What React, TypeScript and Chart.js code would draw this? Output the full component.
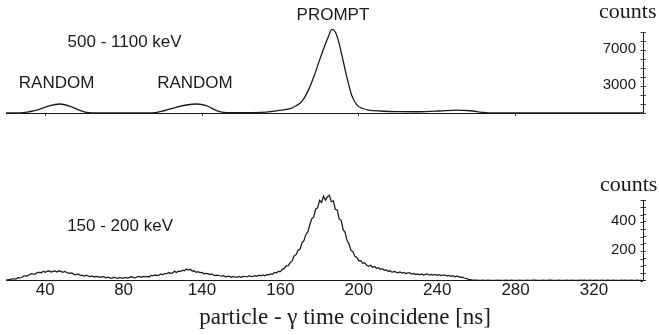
import { useEffect, useRef } from "react";
import { Chart, registerables } from "chart.js";

Chart.register(...registerables);

// ---- x axis (time, ns) ----
const xMinNs = 20;
const xMaxNs = 345;
const bottomTickValues = [40, 80, 120, 160, 200, 240, 280, 320];
const bottomTickLabels = ["40", "80", "140", "160", "200", "240", "280", "320"];
const topTickValues = [40, 120, 200, 280];
const xTitle = "particle - γ time coincidene [ns]";

// ---- y axes ----
const topYTickValues = [0, 1000, 2000, 3000, 4000, 5000, 6000, 7000, 8000, 9000];
const topYLabelled = [3000, 7000];
const bottomYTickValues = [0, 50, 100, 150, 200, 250, 300, 350, 400, 450, 500, 550];
const bottomYLabelled = [200, 400];

// ---- top panel: 500 - 1100 keV (smooth spectrum) ----
const topTimes = [
  20, 27, 32, 37, 42, 47.5, 53, 58, 62, 66, 80, 92, 97, 105, 112, 117.5, 122.5, 127.5, 131,
  140, 150, 156, 161, 165, 168, 171, 174, 177, 180, 182.5, 184.5, 186.3, 188, 189.5, 191.5,
  194, 196.5, 199, 202, 205, 211, 220, 231, 241, 250, 257, 263, 268, 345,
];
const topCounts = [
  0, 0, 140, 400, 800, 1000, 720, 260, 30, 0, 0, 0, 80, 520, 890, 1000, 780, 260, 70,
  30, 60, 170, 330, 480, 800, 1300, 2400, 4000, 5900, 7400, 8500, 9300, 9000, 8100, 6300,
  3900, 1900, 900, 500, 330, 220, 150, 140, 220, 330, 250, 80, 0, 0,
];

// ---- bottom panel: 150 - 200 keV (1 ns bins starting at 20 ns) ----
const bottomStartNs = 20;
const bottomCounts = [
  2, 7, 5, 12, 12, 10, 20, 18, 21, 30,
  33, 33, 42, 48, 45, 45, 56, 56, 53, 64,
  57, 63, 67, 59, 63, 66, 58, 67, 63, 57,
  62, 55, 49, 53, 49, 40, 43, 44, 35, 36,
  31, 37, 31, 28, 32, 24, 29, 27, 22, 27,
  25, 19, 24, 19, 16, 23, 18, 16, 21, 17,
  17, 22, 17, 22, 26, 20, 19, 26, 28, 22,
  29, 25, 29, 25, 35, 32, 38, 34, 37, 46,
  39, 48, 47, 55, 50, 53, 63, 55, 64, 61,
  71, 67, 79, 72, 77, 65, 67, 56, 61, 55,
  56, 47, 50, 47, 41, 45, 37, 34, 37, 33,
  30, 33, 26, 29, 29, 23, 28, 23, 24, 29,
  23, 29, 28, 25, 33, 27, 29, 34, 29, 37,
  32, 38, 33, 41, 39, 45, 43, 56, 53, 63,
  61, 79, 82, 101, 102, 124, 134, 168, 177, 207,
  214, 257, 272, 315, 332, 381, 422, 435, 489, 496,
  548, 533, 576, 549, 573, 582, 538, 544, 487, 482,
  421, 411, 347, 330, 273, 251, 206, 197, 165, 158,
  135, 136, 118, 122, 105, 98, 105, 91, 96, 84,
  88, 77, 81, 70, 73, 64, 67, 56, 62, 58,
  53, 59, 52, 56, 48, 53, 52, 44, 49, 41,
  45, 39, 45, 38, 42, 45, 37, 42, 37, 42,
  36, 41, 34, 38, 38, 31, 35, 29, 33, 26,
  30, 27, 22, 23, 16, 14, 8, 7, 4, 4,
  3, 2, 2, 4, 1, 2, 3, 2, 1, 1,
  2, 4, 2, 1, 1, 3, 2, 2, 4, 1,
  1, 2, 3, 1, 2, 2, 4, 1, 2, 3,
  3, 1, 1, 2, 4, 2, 1, 3, 3, 1,
  2, 1, 4, 2, 2, 1, 3, 1, 2, 4,
  1, 2, 2, 3, 1, 4, 2, 1, 3, 2,
  2, 4, 1, 1, 3, 2, 2, 4, 1, 2,
  3, 1, 2, 2, 4, 1, 3, 2, 1, 3,
  2, 1, 3, 1, 2, 0,
];

const SANS = "'Liberation Sans', Arial, sans-serif";
const SERIF = "'Liberation Serif', 'Times New Roman', serif";
const INK = "#1a1a1a";

type Note = { text: string; x: number; y: number; align: CanvasTextAlign; font: string };

const topNotes: Note[] = [
  { text: "PROMPT", x: 186.8, y: 10890, align: "center", font: `17px ${SANS}` },
  { text: "500 - 1100 keV", x: 80.5, y: 7890, align: "center", font: `17px ${SANS}` },
  { text: "RANDOM", x: 45.8, y: 3333, align: "center", font: `17px ${SANS}` },
  { text: "RANDOM", x: 116.4, y: 3333, align: "center", font: `17px ${SANS}` },
  { text: "counts", x: 322.6, y: 11222, align: "left", font: `22px ${SERIF}` },
];
const bottomNotes: Note[] = [
  { text: "150 - 200 keV", x: 78.2, y: 372, align: "center", font: `17px ${SANS}` },
  { text: "counts", x: 323, y: 649, align: "left", font: `22px ${SERIF}` },
];

// draws free text (in data coordinates), y tick labels left of the right axis,
// inward halves of the y tick marks, and optionally the x axis title
function textPlugin(
  notes: Note[],
  yTicks: number[],
  yLabelled: number[],
  title?: { text: string; x: number; py: number }
) {
  return {
    id: "texts",
    afterDraw(chart: any) {
      const { ctx, scales } = chart;
      const xs = scales.x;
      const ys = scales.y;
      ctx.save();
      ctx.strokeStyle = "#333";
      ctx.lineWidth = 1;
      ctx.beginPath();
      for (const v of yTicks) {
        const py = Math.round(ys.getPixelForValue(v)) + 0.5;
        ctx.moveTo(ys.left - 2.5, py);
        ctx.lineTo(ys.left, py);
      }
      ctx.stroke();
      ctx.fillStyle = INK;
      ctx.textBaseline = "middle";
      for (const n of notes) {
        ctx.font = n.font;
        ctx.textAlign = n.align;
        ctx.fillText(n.text, xs.getPixelForValue(n.x), ys.getPixelForValue(n.y));
      }
      ctx.font = `15px ${SANS}`;
      ctx.textAlign = "right";
      for (const v of yLabelled) {
        ctx.fillText(String(v), ys.left - 7, ys.getPixelForValue(v) - 1);
      }
      if (title) {
        ctx.font = `23px ${SERIF}`;
        ctx.textAlign = "center";
        ctx.fillText(title.text, xs.getPixelForValue(title.x), title.py);
      }
      ctx.restore();
    },
  };
}

export default function App() {
  const topRef = useRef<HTMLCanvasElement>(null);
  const botRef = useRef<HTMLCanvasElement>(null);

  useEffect(() => {
    const top = new Chart(topRef.current!, {
      type: "line",
      data: {
        datasets: [
          {
            data: topTimes.map((t, i) => ({ x: t, y: topCounts[i] })),
            borderColor: INK,
            borderWidth: 1.3,
            pointRadius: 0,
            cubicInterpolationMode: "monotone",
            fill: false,
            clip: false as any,
          },
        ],
      },
      options: {
        animation: false,
        responsive: false,
        maintainAspectRatio: false,
        layout: { padding: { left: 6, right: 13, top: 32, bottom: 9 } },
        plugins: { legend: { display: false }, tooltip: { enabled: false } },
        scales: {
          x: {
            type: "linear",
            min: xMinNs,
            max: xMaxNs,
            afterBuildTicks: (s: any) => {
              s.ticks = topTickValues.map((v) => ({ value: v }));
            },
            ticks: { display: false, autoSkip: false },
            grid: { drawOnChartArea: false, drawTicks: true, tickLength: 3, color: "#333" },
            border: { color: INK, width: 1 },
          },
          y: {
            position: "right",
            min: 0,
            max: 9000,
            afterBuildTicks: (s: any) => {
              s.ticks = topYTickValues.map((v) => ({ value: v }));
            },
            ticks: { display: false, autoSkip: false },
            grid: { drawOnChartArea: false, drawTicks: true, tickLength: 3, color: "#333" },
            border: { color: INK, width: 1 },
          },
        },
      },
      plugins: [textPlugin(topNotes, topYTickValues, topYLabelled)],
    });

    const bottom = new Chart(botRef.current!, {
      type: "line",
      data: {
        datasets: [
          {
            data: bottomCounts.map((c, i) => ({ x: bottomStartNs + i, y: c })),
            borderColor: INK,
            borderWidth: 1.25,
            pointRadius: 0,
            tension: 0,
            fill: false,
            clip: false as any,
          },
        ],
      },
      options: {
        animation: false,
        responsive: false,
        maintainAspectRatio: false,
        layout: { padding: { left: 6, right: 13, top: 75, bottom: 34 } },
        plugins: { legend: { display: false }, tooltip: { enabled: false } },
        scales: {
          x: {
            type: "linear",
            min: xMinNs,
            max: xMaxNs,
            afterBuildTicks: (s: any) => {
              s.ticks = bottomTickValues.map((v) => ({ value: v }));
            },
            ticks: {
              padding: 0,
              maxRotation: 0,
              autoSkip: false,
              color: INK,
              font: { family: SANS, size: 17 },
              callback: (v: any) => bottomTickLabels[bottomTickValues.indexOf(Number(v))],
            },
            grid: { drawOnChartArea: false, drawTicks: false },
            border: { color: INK, width: 1 },
          },
          y: {
            position: "right",
            min: 0,
            max: 550,
            afterBuildTicks: (s: any) => {
              s.ticks = bottomYTickValues.map((v) => ({ value: v }));
            },
            ticks: { display: false, autoSkip: false },
            grid: { drawOnChartArea: false, drawTicks: true, tickLength: 3, color: "#333" },
            border: { color: INK, width: 1 },
          },
        },
      },
      plugins: [textPlugin(bottomNotes, bottomYTickValues, bottomYLabelled, { text: xTitle, x: 193, py: 193 })],
    });

    return () => {
      top.destroy();
      bottom.destroy();
    };
  }, []);

  return (
    <div style={{ position: "absolute", left: 0, top: 0, width: 659, height: 335, background: "#fff" }}>
      <canvas
        ref={topRef}
        width={659}
        height={125}
        style={{ position: "absolute", left: 0, top: 0, width: 659, height: 125 }}
      />
      <canvas
        ref={botRef}
        width={659}
        height={210}
        style={{ position: "absolute", left: 0, top: 125, width: 659, height: 210 }}
      />
    </div>
  );
}
